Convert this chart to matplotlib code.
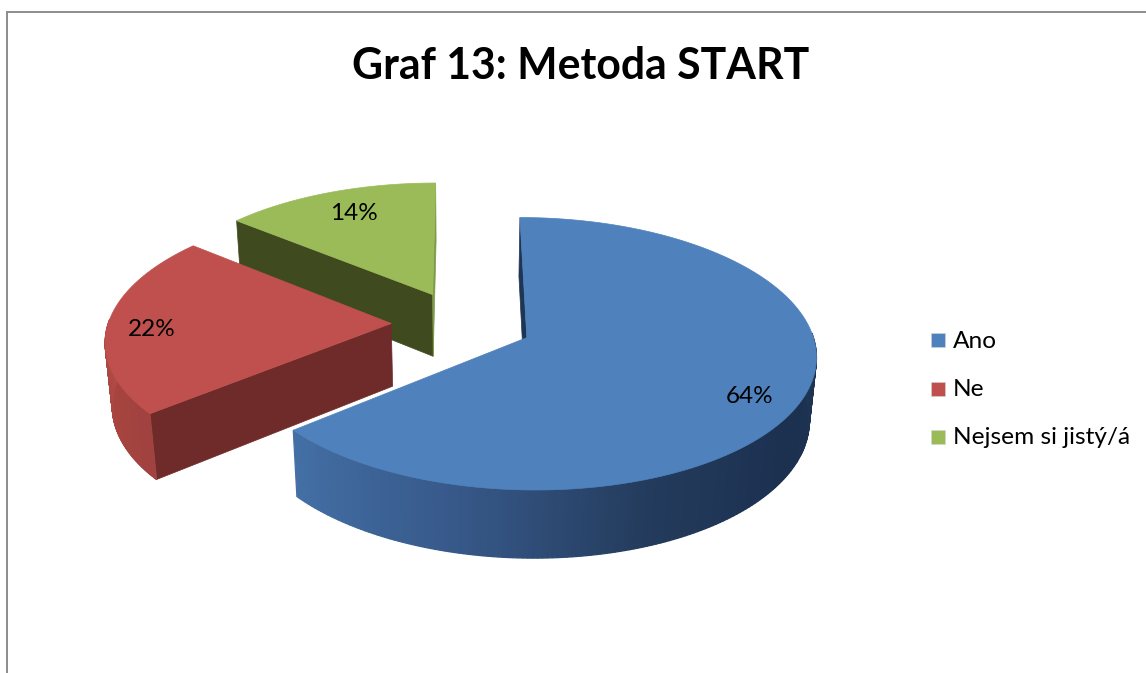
#Exploded 3D pie drawn by hand, matplotlib has no perspective pie
import numpy as np
import matplotlib
matplotlib.use('Agg')
from matplotlib import pyplot as plt
from matplotlib.colors import to_rgb
from matplotlib.patches import Polygon, Rectangle

categories = ['Ano', 'Ne', 'Nejsem si jistý/á']
values = [64, 22, 14]
colors = ['#4f81bd', '#c0504d', '#9bbb59']
cut_colors = ['#1f3554', '#6e2b29', '#3f4a1f']
title = 'Graf 13: Metoda START'

W, H = 1146, 673
# projection of the pie, in pixels of the picture
cx, cy = 462, 323.5
scale_x, scale_y = 283, 131
persp = 0.117
persp_z = 0.02
depth = 64
explode = 0.25

plt.rcParams['font.family'] = ['Lato', 'DejaVu Sans']
fig = plt.figure(figsize=(W / 100, H / 100), dpi=100)
ax = fig.add_axes([0, 0, 1, 1])
ax.set_xlim(0, W)
ax.set_ylim(H, 0)
ax.axis('off')


def project(x, y, z=0.0):
    den = 1 - persp * y + persp_z * z
    return cx + scale_x * x / den, cy + (scale_y * y + depth * z) / den


def rim(theta, off):
    # theta clockwise from the top, radians
    return off[0] + np.sin(theta), off[1] - np.cos(theta)


def quad(p1, p2, z1=0.0, z2=1.0):
    return [project(*p1, z1), project(*p2, z1), project(*p2, z2), project(*p1, z2)]


def shade_rim(t0, t1, off, stops):
    # outer wall of a slice, short strips with a colour running along the angle
    ts = np.radians(np.linspace(t0, t1, 160))
    pos = np.linspace(0, 1, len(stops))
    for a, b, t in zip(ts[:-1], ts[1:], np.linspace(0, 1, 159)):
        r = np.interp(t, pos, [to_rgb(s)[0] for s in stops])
        g = np.interp(t, pos, [to_rgb(s)[1] for s in stops])
        bl = np.interp(t, pos, [to_rgb(s)[2] for s in stops])
        ax.add_patch(Polygon(quad(rim(a, off), rim(b, off)), fc=(r, g, bl), ec=(r, g, bl), lw=0.9))


fracs = np.array(values) / sum(values)
edges = np.concatenate([[0], np.cumsum(fracs)]) * 360
mids = (edges[:-1] + edges[1:]) / 2
offsets = [(explode * np.sin(np.radians(m)), -explode * np.cos(np.radians(m))) for m in mids]

# frame of the chart, only top and left show
ax.plot([7, 7, W], [H, 12, 12], color='#8c8c8c', lw=1.4, solid_joinstyle='miter')

# green slice, back
i = 2
off = offsets[i]
ax.add_patch(Polygon(quad(off, rim(np.radians(edges[i]), off)), fc=cut_colors[i], ec=cut_colors[i], lw=0.5))
ax.add_patch(Polygon(quad(off, rim(np.radians(edges[i + 1]), off)), fc='#7f9a48', ec='#7f9a48', lw=0.5))

# red slice
i = 1
off = offsets[i]
ax.add_patch(Polygon(quad(off, rim(np.radians(edges[i]), off)), fc=cut_colors[i], ec=cut_colors[i], lw=0.5))
shade_rim(edges[i], 272, off, ['#a04240', '#a8443f', '#b04a46'])

# top of green and red
for i in [2, 1]:
    off = offsets[i]
    ts = np.radians(np.linspace(edges[i], edges[i + 1], 80))
    pts = [project(*off)] + [project(*rim(t, off)) for t in ts]
    ax.add_patch(Polygon(pts, fc=colors[i], ec=colors[i], lw=0.5))

# blue slice
i = 0
off = offsets[i]
ax.add_patch(Polygon(quad(off, rim(np.radians(edges[i]), off)), fc=cut_colors[i], ec=cut_colors[i], lw=0.5))
shade_rim(edges[i + 1], 88, off, ['#4470a6', '#37598a', '#233b5c', '#1c3050', '#1e3552'])
ts = np.radians(np.linspace(edges[i], edges[i + 1], 200))
pts = [project(*off)] + [project(*rim(t, off)) for t in ts]
ax.add_patch(Polygon(pts, fc=colors[i], ec=colors[i], lw=0.5))

# percent labels
label_r = [0.8, 0.82, 0.8]
label_nudge = [(4, 11), (-7, 6), (6, 2)]
for i, m in enumerate(mids):
    off = offsets[i]
    t = np.radians(m)
    x, y = project(off[0] + label_r[i] * np.sin(t), off[1] - label_r[i] * np.cos(t))
    ax.text(x + label_nudge[i][0], y + label_nudge[i][1], '%d%%' % values[i], fontsize=17.5,
            ha='center', va='center', color='black')

ax.text(581, 66, title, fontsize=30.8, fontweight='bold', ha='center', va='center', color='black')

# legend
for name, c, y in zip(categories, colors, [340, 389, 437]):
    ax.add_patch(Rectangle((931, y - 7), 14, 14, fc=c, ec='#d5d5d5', lw=0.4))
    ax.text(953, y + 1, name, fontsize=17.6, ha='left', va='center', color='black')

fig.savefig('out.png', dpi=100)
